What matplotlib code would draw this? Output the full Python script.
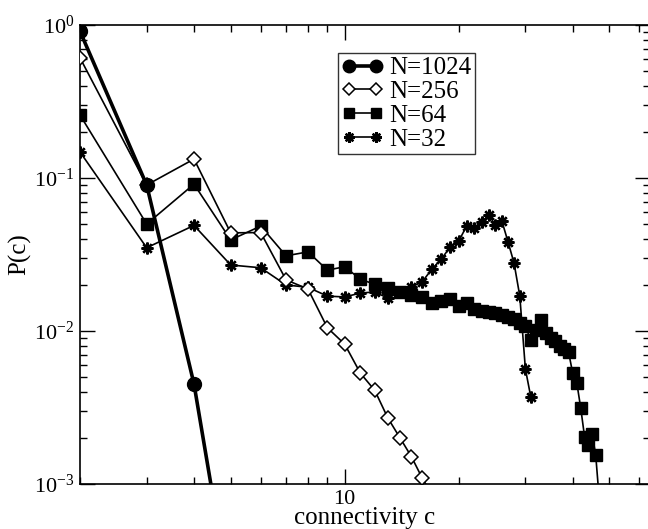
import numpy as np
import matplotlib
matplotlib.use("Agg")
import matplotlib.pyplot as plt
from matplotlib.ticker import LogLocator, NullFormatter, FixedLocator, FixedFormatter

plt.rcParams['font.family'] = ['Liberation Serif', 'DejaVu Serif']
plt.rcParams['mathtext.fontset'] = 'custom'
plt.rcParams['mathtext.rm'] = 'Liberation Serif'
plt.rcParams['mathtext.it'] = 'Liberation Serif:italic'

# ---- data ----
c1024 = [2, 3, 4, 5]
p1024 = [0.91, 0.090, 0.0045, 0.00017]

c256 = [2, 3, 4, 5, 6, 7, 8, 9, 10, 11, 12, 13, 14, 15, 16, 17]
p256 = [0.61, 0.090, 0.133, 0.0438, 0.044, 0.0216, 0.0188, 0.0105, 0.0082,
        0.0053, 0.0041, 0.0027, 0.0020, 0.00151, 0.00110, 0.00085]

c64 = list(range(2, 48))
p64 = [0.258, 0.050, 0.0912, 0.0394, 0.0485, 0.031, 0.0329, 0.025, 0.0263,
       0.0218, 0.0202, 0.0190, 0.0180, 0.0172, 0.0167, 0.0152, 0.0157, 0.0162,
       0.0146, 0.0152, 0.0139, 0.0135, 0.0133, 0.0131, 0.0127, 0.0124, 0.0120,
       0.0113, 0.0108, 0.0087, 0.0102, 0.0118, 0.0097, 0.0090, 0.0086, 0.0080,
       0.0076, 0.0073, 0.0053, 0.0046, 0.00314, 0.00203, 0.00180, 0.00212,
       0.00155, 0.0008]

c32 = list(range(2, 32))
p32 = [0.148, 0.035, 0.049, 0.027, 0.0259, 0.020, 0.0193, 0.0169, 0.0167,
       0.0177, 0.0180, 0.0164, 0.0180, 0.0194, 0.0209, 0.0254, 0.0296, 0.0354,
       0.0387, 0.0486, 0.0471, 0.0516, 0.0573, 0.0493, 0.0524, 0.0382, 0.0278,
       0.0169, 0.00565, 0.00371]

labels = ['N=1024', 'N=256', 'N=64', 'N=32']
ytick_vals = [1e-3, 1e-2, 1e-1, 1e0]
ytick_labels = [r'$10^{-3}$', r'$10^{-2}$', r'$10^{-1}$', r'$10^{0}$']

W, H = 648, 529
fig = plt.figure(figsize=(W / 100, H / 100), dpi=100)
ax = fig.add_axes([80 / W, (H - 484) / H, (650 - 80) / W, (484 - 25) / H])

ax.plot(c1024, p1024, '-', color='black', lw=2.6, marker='o', ms=10,
        mfc='black', mec='black', label=labels[0], zorder=5)
ax.plot(c256, p256, '-', color='black', lw=1.2, marker='D', ms=7,
        mfc='white', mec='black', mew=1.1, label=labels[1], zorder=4)
ax.plot(c64, p64, '-', color='black', lw=1.2, marker='s', ms=8,
        mfc='black', mec='black', label=labels[2], zorder=3)
ax.plot(c32, p32, '-', color='black', lw=1.2, marker=(8, 2, 0), ms=8.5,
        mfc='black', mec='black', mew=1.7, label=labels[3], zorder=3)

ax.set_xscale('log')
ax.set_yscale('log')
ax.set_xlim(2, 64)
ax.set_ylim(1e-3, 1)

ax.yaxis.set_major_locator(FixedLocator(ytick_vals))
ax.yaxis.set_major_formatter(FixedFormatter(ytick_labels))
ax.yaxis.set_minor_locator(LogLocator(base=10, subs=np.arange(2, 10)))
ax.yaxis.set_minor_formatter(NullFormatter())
ax.xaxis.set_major_locator(FixedLocator([10]))
ax.xaxis.set_major_formatter(FixedFormatter(['10']))
ax.xaxis.set_minor_locator(LogLocator(base=10, subs=np.arange(2, 10)))
ax.xaxis.set_minor_formatter(NullFormatter())

ax.tick_params(which='both', direction='in', top=True, right=True,
               color='black', width=1)
ax.tick_params(which='major', length=11, labelsize=16, pad=4)
ax.tick_params(which='minor', length=5)
for s in ax.spines.values():
    s.set_linewidth(1.2)

ax.set_xlabel('connectivity c', fontsize=18, labelpad=-1)
ax.set_ylabel('P(c)', fontsize=18, labelpad=2)

leg = ax.legend(loc='upper left', bbox_to_anchor=((338 - 80) / 570, (484 - 53) / 459),
                borderaxespad=0, fancybox=False, frameon=True, fontsize=18,
                numpoints=2, handlelength=1.65, handletextpad=0.25,
                labelspacing=0.05, borderpad=0.15, markerscale=0.9)
leg.get_frame().set_edgecolor('black')
leg.get_frame().set_linewidth(1.0)

fig.savefig('out.png', dpi=100)
